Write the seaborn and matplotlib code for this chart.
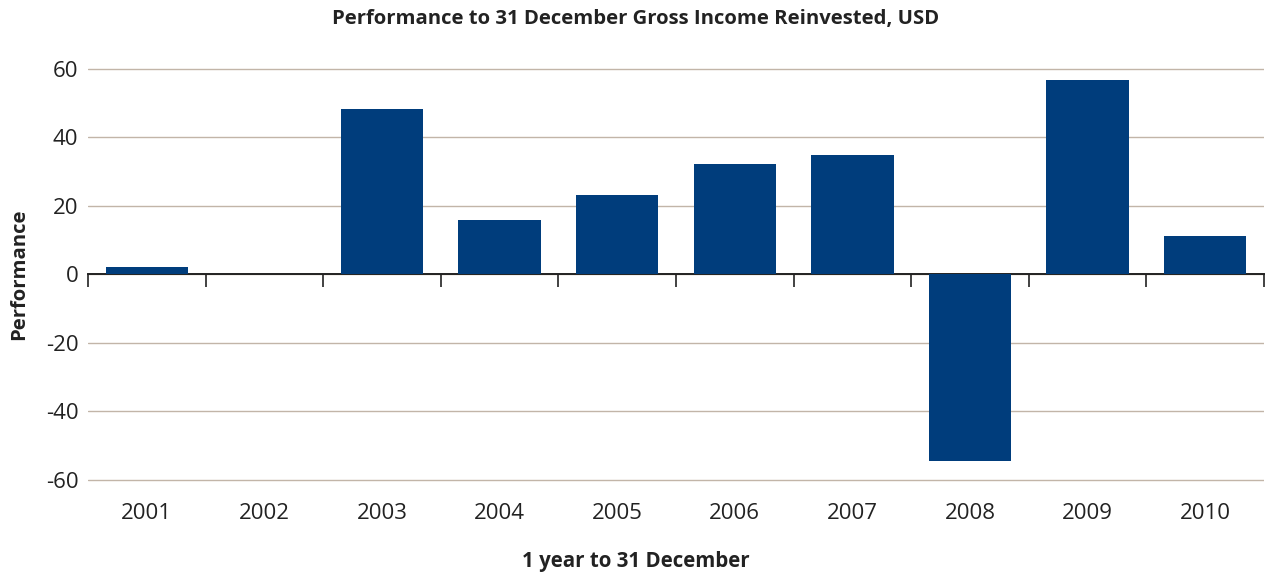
import pandas as pd
import matplotlib.pyplot as plt
import seaborn as sns

# Data
years = ['2001', '2002', '2003', '2004', '2005', '2006', '2007', '2008', '2009', '2010']
performance = [2.2, 0.0, 48.4, 16.0, 23.3, 32.1, 34.8, -54.5, 56.7, 11.1]
y_ticks = [-60, -40, -20, 0, 20, 40, 60]

df = pd.DataFrame({'Year': years, 'Performance': performance})

sns.set_theme(style="white")
plt.rcParams['font.family'] = ['Open Sans', 'DejaVu Sans']
plt.rcParams['axes.unicode_minus'] = False

fig = plt.figure(figsize=(12.72, 5.74), dpi=100)
ax = fig.add_axes([0.0692, 0.146, 0.9245, 0.752])

sns.barplot(data=df, x='Year', y='Performance', color='#003d7c', saturation=1,
            width=0.7, ax=ax, zorder=3, linewidth=0)

ax.set_ylim(-63, 63)
ax.set_xlim(-0.5, len(years) - 0.5)
ax.set_yticks(y_ticks)
ax.yaxis.grid(True, color='#c2b5a8', linewidth=1)
ax.set_axisbelow(True)
for s in ax.spines.values():
    s.set_visible(False)
ax.tick_params(axis='both', length=0, labelsize=16, labelcolor='#222222')
ax.tick_params(axis='y', pad=7)
ax.tick_params(axis='x', pad=9)

# zero line with ticks between categories, drawn under the bars
sec = ax.secondary_xaxis(0.5)
sec.set_zorder(2)
sec.set_xticks([i - 0.5 for i in range(len(years) + 1)])
sec.set_xticklabels([])
sec.tick_params(axis='x', direction='in', length=9, width=1.2, color='#222222')
for side in ['top', 'bottom']:
    sec.spines[side].set_color('#222222')
    sec.spines[side].set_linewidth(1.4)

# title and x label centred on the figure, not the axes
mid = (0.5 - 0.0692) / 0.9245
ax.set_title('Performance to 31 December Gross Income Reinvested, USD',
             fontsize=14.6, fontweight='bold', color='#222222', pad=25, x=mid)
ax.set_xlabel('1 year to 31 December', fontsize=14.8, fontweight='bold',
              color='#222222')
ax.xaxis.set_label_coords(mid, -0.142)
ax.set_ylabel('Performance', fontsize=14.6, fontweight='bold', color='#222222',
              labelpad=12)

plt.savefig('out.png', dpi=100)
